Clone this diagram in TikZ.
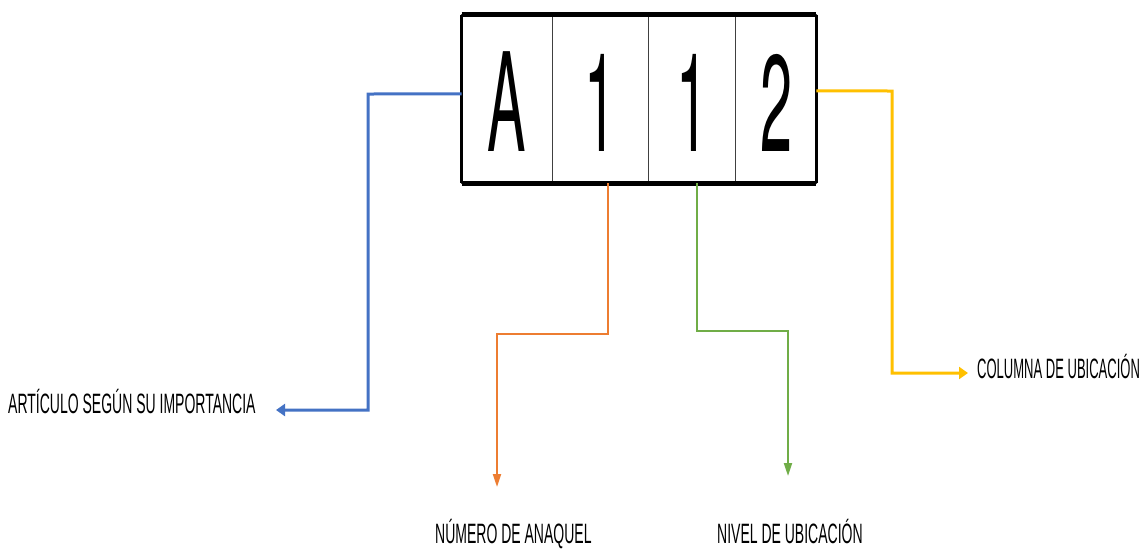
\documentclass[tikz,border=0pt]{standalone}
\usepackage{fontspec}
\setmainfont{Liberation Sans}
\newfontfamily\codefont[FakeStretch=0.42]{TeX Gyre Heros}
\newfontfamily\tagfont[FakeStretch=0.5]{Liberation Sans}
\newfontfamily\tagfonttight[FakeStretch=0.465]{Liberation Sans}
\usepackage{tikz}
\usetikzlibrary{arrows.meta, positioning, calc}
\definecolor{cblue}{HTML}{4472C4}
\definecolor{corange}{HTML}{ED7D31}
\definecolor{cgreen}{HTML}{70AD47}
\definecolor{cyellow}{HTML}{FFC000}

\begin{document}
\begin{tikzpicture}[x=1pt, y=-1pt,
  cell/.style={draw=black!75, line width=1pt, minimum height=168.8pt,
    inner sep=0pt, outer sep=0pt, text height=106pt, text depth=0pt,
    font=\codefont\fontsize{137pt}{140pt}\selectfont},
  tag/.style={inner sep=0pt, anchor=base west,
    font=\tagfont\fontsize{28pt}{30pt}\selectfont},
  wide/.style={line width=3pt, -{Triangle[length=9pt,width=12pt]}},
  slim/.style={line width=2pt, -{Triangle[length=13pt,width=8pt]}}]
  \useasboundingbox (0,0) rectangle (1148,550);

  % code cells
  \node[cell, minimum width=90.8pt] (cA) at (506.9,98.9) {A};
  \node[cell, minimum width=96pt, right=0pt of cA] (c1) {1};
  \node[cell, minimum width=87.4pt, right=0pt of c1] (c2) {1};
  \node[cell, minimum width=80.6pt, right=0pt of c2] (c3) {2};
  \draw[line width=3pt] (cA.north west) -- (cA.south west);
  \draw[line width=3pt] (c3.north east) -- (c3.south east);
  \draw[line width=4.5pt] (cA.north west) -- (c3.north east);
  \draw[line width=4.5pt] (cA.south west) -- (c3.south east);

  % labels
  \node[tag] (art) at (8,413) {ARTÍCULO SEGÚN SU IMPORTANCIA};
  \node[tag] (anaquel) at (435,543) {NÚMERO DE ANAQUEL};
  \node[tag] (nivel) at (717,543) {NIVEL DE UBICACIÓN};
  \node[tag, font=\tagfonttight\fontsize{28pt}{30pt}\selectfont] (col) at (977,378) {COLUMNA DE UBICACIÓN};

  \coordinate (artTip) at (276,410);
  \coordinate (anaquelTip) at (497,487);
  \coordinate (nivelTip) at (788,476);
  \coordinate (colTip) at (968,373);

  % connectors
  \draw[wide, cblue] ([yshift=5pt]cA.west) -- (368,94) |- (artTip);
  \draw[slim, corange] ([xshift=8pt]c1.south) -- ++(0,151) -| (anaquelTip);
  \draw[slim, cgreen] ([xshift=5pt]c2.south) -- ++(0,148) -| (nivelTip);
  \draw[wide, cyellow] ([yshift=8pt]c3.east) -- (892,91) |- (colTip);
\end{tikzpicture}
\end{document}
